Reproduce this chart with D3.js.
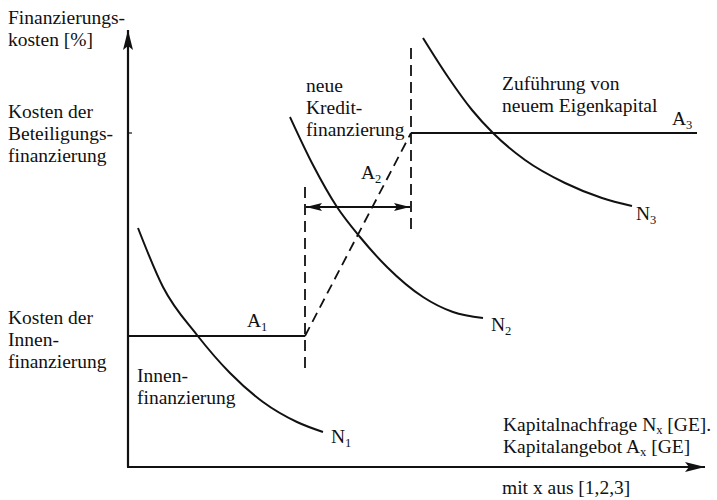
<!DOCTYPE html>
<html>
<head>
<meta charset="utf-8">
<script src="https://cdn.jsdelivr.net/npm/d3@7"></script>
<style>
	body { margin: 0; background: #fff; }
	svg text { font-family: "Liberation Serif", "DejaVu Serif", serif; font-size: 19.5px; fill: #111; }
</style>
</head>
<body>
<div id="chart"></div>
<script>
(function() {
	"use strict";

	// Nachfragekurven N1..N3 (Menge, Kosten) in Achseneinheiten
	var demandN1 = [[10, 239], [35, 180], [69, 132], [102, 94], [135, 65], [169, 45], [195, 35]];
	var demandN2 = [[162, 350], [185, 302], [209, 260], [232, 230], [259, 200], [295, 170], [325, 155], [355, 149]];
	var demandN3 = [[295, 429], [320, 390], [344, 357], [365, 334], [397, 307], [437, 284], [474, 269], [504, 261]];

	// Angebotskurve A1 - A2 - A3
	var supplyA1 = [[0, 131], [177, 131]];
	var supplyA2 = [[177, 131], [283, 334]];
	var supplyA3 = [[283, 334], [569, 334]];

	// Grenzen der Finanzierungsstufen
	var stepBounds = [177, 283];
	var costLevels = [131, 334];

	var width = 717, height = 500;
	var origin = { x: 128, y: 467 };

	var x = d3.scaleLinear().domain([0, 580]).range([origin.x, origin.x + 580]);
	var y = d3.scaleLinear().domain([0, 440]).range([origin.y, origin.y - 440]);

	var svg = d3.select('#chart')
		.append('svg')
		.attr('width', width)
		.attr('height', height);

	var defs = svg.append('defs');
	defs.append('marker')
		.attr('id', 'axis-head')
		.attr('viewBox', '0 0 20 10')
		.attr('refX', 20).attr('refY', 5)
		.attr('markerWidth', 20).attr('markerHeight', 10)
		.attr('markerUnits', 'userSpaceOnUse')
		.attr('orient', 'auto')
		.append('path').attr('d', 'M0,0 L20,5 L0,10 L4,5 Z').attr('fill', '#111');
	defs.append('marker')
		.attr('id', 'small-head')
		.attr('viewBox', '0 0 16 8')
		.attr('refX', 16).attr('refY', 4)
		.attr('markerWidth', 16).attr('markerHeight', 8)
		.attr('markerUnits', 'userSpaceOnUse')
		.attr('orient', 'auto-start-reverse')
		.append('path').attr('d', 'M0,0 L16,4 L0,8 L3,4 Z').attr('fill', '#111');

	var line = d3.line()
		.x(function (d) { return x(d[0]); })
		.y(function (d) { return y(d[1]); });
	var curve = d3.line()
		.x(function (d) { return x(d[0]); })
		.y(function (d) { return y(d[1]); })
		.curve(d3.curveMonotoneX);

	// Achsen
	svg.append('line')
		.attr('x1', x(0)).attr('y1', y(0))
		.attr('x2', x(0)).attr('y2', y(437))
		.attr('stroke', '#111').attr('stroke-width', 2.2)
		.attr('marker-end', 'url(#axis-head)');
	svg.append('line')
		.attr('x1', x(0) - 1).attr('y1', y(0))
		.attr('x2', x(577)).attr('y2', y(0))
		.attr('stroke', '#111').attr('stroke-width', 2.2)
		.attr('marker-end', 'url(#axis-head)');
	svg.append('line')
		.attr('x1', x(0)).attr('y1', y(costLevels[1]))
		.attr('x2', x(0) + 4).attr('y2', y(costLevels[1]))
		.attr('stroke', '#111').attr('stroke-width', 1.2);

	// Angebot
	[supplyA1, supplyA3].forEach(function (seg) {
		svg.append('path').attr('d', line(seg))
			.attr('fill', 'none').attr('stroke', '#111').attr('stroke-width', 2);
	});
	svg.append('path').attr('d', line(supplyA2))
		.attr('fill', 'none').attr('stroke', '#111').attr('stroke-width', 1.8)
		.attr('stroke-dasharray', '10,6');

	// gestrichelte Stufengrenzen
	svg.append('line')
		.attr('x1', x(stepBounds[0])).attr('y1', y(280))
		.attr('x2', x(stepBounds[0])).attr('y2', y(95))
		.attr('stroke', '#111').attr('stroke-width', 1.8).attr('stroke-dasharray', '11,6');
	svg.append('line')
		.attr('x1', x(stepBounds[1])).attr('y1', y(419))
		.attr('x2', x(stepBounds[1])).attr('y2', y(234))
		.attr('stroke', '#111').attr('stroke-width', 1.8).attr('stroke-dasharray', '11,6');

	// Doppelpfeil
	svg.append('line')
		.attr('x1', x(stepBounds[0]) + 1).attr('y1', y(260))
		.attr('x2', x(stepBounds[1]) - 1).attr('y2', y(260))
		.attr('stroke', '#111').attr('stroke-width', 1.8)
		.attr('marker-start', 'url(#small-head)')
		.attr('marker-end', 'url(#small-head)');

	// Nachfrage
	[demandN1, demandN2, demandN3].forEach(function (pts) {
		svg.append('path').attr('d', curve(pts))
			.attr('fill', 'none').attr('stroke', '#111').attr('stroke-width', 2);
	});

	function label(px, py, main, sub) {
		var t = svg.append('text').attr('x', px).attr('y', py);
		t.append('tspan').text(main);
		if (sub) {
			t.append('tspan').attr('dy', 4).style('font-size', '12.5px').text(sub);
		}
		return t;
	}
	function block(px, py, lines) {
		lines.forEach(function (s, i) {
			svg.append('text').attr('x', px).attr('y', py + i * 22).text(s);
		});
	}

	// Kurvenbezeichnungen
	var endN1 = demandN1[demandN1.length - 1];
	var endN2 = demandN2[demandN2.length - 1];
	var endN3 = demandN3[demandN3.length - 1];
	label(x(endN1[0]) + 8, y(endN1[1]) + 11, 'N', '1');
	label(x(endN2[0]) + 8, y(endN2[1]) + 13, 'N', '2');
	label(x(endN3[0]) + 4, y(endN3[1]) + 14, 'N', '3');
	label(x(119), y(supplyA1[0][1]) - 9, 'A', '1');
	label(x(233), y(288), 'A', '2');
	label(x(544), y(supplyA3[0][1]) - 8, 'A', '3');

	// Texte
	block(8, 24, ['Finanzierungs-', 'kosten [%]']);
	block(8, 118, ['Kosten der', 'Beteiligungs-', 'finanzierung']);
	block(8, 324, ['Kosten der', 'Innen-', 'finanzierung']);
	block(137, 382, ['Innen-', 'finanzierung']);
	block(306, 92, ['neue', 'Kredit-', 'finanzierung']);
	block(502, 90, ['Zuführung von', 'neuem Eigenkapital']);

	var k1 = svg.append('text').attr('x', 503).attr('y', 431);
	k1.append('tspan').text('Kapitalnachfrage N');
	k1.append('tspan').attr('dy', 3).style('font-size', '12.5px').text('x');
	k1.append('tspan').attr('dy', -3).text(' [GE].');
	var k2 = svg.append('text').attr('x', 503).attr('y', 453);
	k2.append('tspan').text('Kapitalangebot A');
	k2.append('tspan').attr('dy', 3).style('font-size', '12.5px').text('x');
	k2.append('tspan').attr('dy', -3).text(' [GE]');
	svg.append('text').attr('x', 502).attr('y', 494).text('mit x aus [1,2,3]');
}());
</script>
</body>
</html>
